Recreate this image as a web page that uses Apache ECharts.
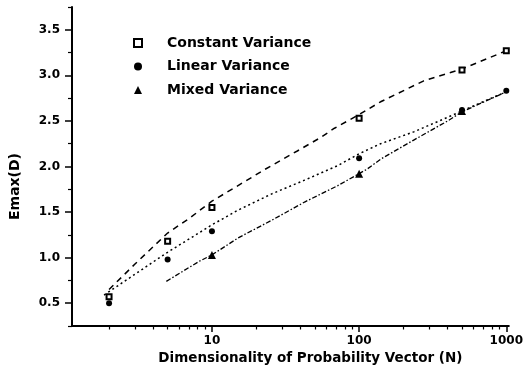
<!DOCTYPE html>
<html>
<head>
<meta charset="utf-8">
<script src="https://cdn.jsdelivr.net/npm/echarts@6/dist/echarts.min.js"></script>
<style>html,body{margin:0;padding:0;background:#fff}#c{width:526px;height:373px}</style>
</head>
<body>
<div id="c"></div>
<script>
// ---- data ----
var xMajorTicks = [10, 100, 1000];
var xMinorTicks = [2,3,4,5,6,7,8,9,20,30,40,50,60,70,80,90,200,300,400,500,600,700,800,900];
var yMajorTicks = [0.5, 1.0, 1.5, 2.0, 2.5, 3.0, 3.5];
var yMinorTicks = [0.25, 0.75, 1.25, 1.75, 2.25, 2.75, 3.25, 3.75];

var nConst = [2, 5, 10, 100, 500, 1000];
var constVals = [0.57, 1.18, 1.55, 2.53, 3.06, 3.27];
var nLinear = [2, 5, 10, 100, 500, 1000];
var linearVals = [0.50, 0.98, 1.29, 2.09, 2.62, 2.83];
var nMixed = [10, 100, 500];
var mixedVals = [1.03, 1.92, 2.61];

var nConstFit = [2, 3, 5, 7, 10, 14, 23, 38, 55, 68, 100, 140, 275, 500, 733, 1000];
var constFitVals = [0.65, 0.93, 1.27, 1.43, 1.62, 1.76, 1.97, 2.17, 2.32, 2.42, 2.57, 2.71, 2.94, 3.07, 3.18, 3.27];
var nLinearFit = [1.85, 4.9, 10, 15, 25.5, 42.6, 71.6, 100, 140, 235, 400, 500, 1000];
var linearFitVals = [0.59, 1.05, 1.36, 1.52, 1.70, 1.85, 2.01, 2.14, 2.25, 2.38, 2.54, 2.61, 2.82];
var nMixedFit = [4.9, 8.2, 10, 15.2, 25.5, 42.6, 71.6, 113, 140, 235, 400, 500, 1000];
var mixedFitVals = [0.74, 0.96, 1.03, 1.22, 1.41, 1.61, 1.79, 1.97, 2.08, 2.29, 2.50, 2.60, 2.82];

var names = ['Constant Variance', 'Linear Variance', 'Mixed Variance'];

function zip(a, b) { return a.map(function (v, i) { return [v, b[i]]; }); }

var FONT = 'DejaVu Sans';
var chart = echarts.init(document.getElementById('c'), null, {renderer: 'canvas'});

var xBase = {
  type: 'log', logBase: 10, min: 1.12, max: 1040, position: 'bottom',
  splitLine: {show: false}, minorTick: {show: false}, minorSplitLine: {show: false}
};
var yBase = {
  type: 'value', min: 0.25, max: 3.75, position: 'left',
  splitLine: {show: false}, minorTick: {show: false}
};

chart.setOption({
  animation: false,
  backgroundColor: '#fff',
  grid: {left: 72, right: 12, top: 7, bottom: 47},
  legend: {
    orient: 'vertical', left: 133, top: 36, padding: 0,
    itemWidth: 8, itemHeight: 8, itemGap: 9.5,
    textStyle: {fontFamily: FONT, fontWeight: 'bold', fontSize: 14, color: '#000', padding: [0, 0, 0, 20]},
    data: [
      {name: names[0], icon: 'emptyRect'},
      {name: names[1], icon: 'circle'},
      {name: names[2], icon: 'triangle'}
    ]
  },
  xAxis: [
    Object.assign({}, xBase, {
      name: 'Dimensionality of Probability Vector (N)',
      nameLocation: 'middle', nameGap: 21,
      nameTextStyle: {fontFamily: FONT, fontWeight: 'bold', fontSize: 13.5, color: '#000', padding: [0, 0, 0, 40]},
      axisLine: {show: true, lineStyle: {color: '#000', width: 2}},
      axisTick: {show: true, inside: false, length: 6, lineStyle: {color: '#000', width: 1.5}, customValues: xMajorTicks},
      axisLabel: {show: true, margin: 9, fontFamily: FONT, fontWeight: 'bold', fontSize: 12, color: '#000', customValues: xMajorTicks,
        formatter: function (v) { return String(Math.round(v)); }}
    }),
    Object.assign({}, xBase, {
      axisLine: {show: false},
      axisTick: {show: true, inside: false, length: 3.5, lineStyle: {color: '#000', width: 1.2}, customValues: xMinorTicks},
      axisLabel: {show: false}
    })
  ],
  yAxis: [
    Object.assign({}, yBase, {
      name: 'Emax(D)', nameLocation: 'middle', nameGap: 50,
      nameTextStyle: {fontFamily: FONT, fontWeight: 'bold', fontSize: 14, color: '#000', padding: [0, 40, 0, 0]},
      axisLine: {show: true, lineStyle: {color: '#000', width: 2}},
      axisTick: {show: true, inside: false, length: 7, lineStyle: {color: '#000', width: 1.5}, customValues: yMajorTicks},
      axisLabel: {show: true, margin: 12, fontFamily: FONT, fontWeight: 'bold', fontSize: 12, color: '#000', customValues: yMajorTicks,
        formatter: function (v) { return v.toFixed(1); }}
    }),
    Object.assign({}, yBase, {
      axisLine: {show: false},
      axisTick: {show: true, inside: false, length: 4, lineStyle: {color: '#000', width: 1.2}, customValues: yMinorTicks},
      axisLabel: {show: false}
    })
  ],
  series: [
    {type: 'line', name: 'constFit', data: zip(nConstFit, constFitVals), showSymbol: false, symbol: 'none', silent: true,
      lineStyle: {color: '#000', width: 1.5, type: [6, 5]}, z: 1},
    {type: 'line', name: 'linearFit', data: zip(nLinearFit, linearFitVals), showSymbol: false, symbol: 'none', silent: true,
      lineStyle: {color: '#000', width: 1.5, type: [2, 3]}, z: 1},
    {type: 'line', name: 'mixedFit', data: zip(nMixedFit, mixedFitVals), showSymbol: false, symbol: 'none', silent: true,
      lineStyle: {color: '#000', width: 1.3, type: [5, 2, 1.5, 2]}, z: 1},
    {type: 'scatter', name: names[2], data: zip(nMixed, mixedVals), symbol: 'triangle', symbolSize: 8,
      itemStyle: {color: '#000', opacity: 1}, z: 3},
    {type: 'scatter', name: names[1], data: zip(nLinear, linearVals), symbol: 'circle', symbolSize: 6,
      itemStyle: {color: '#000', opacity: 1}, z: 4},
    {type: 'scatter', name: names[0], data: zip(nConst, constVals), symbol: 'emptyRect', symbolSize: 5,
      itemStyle: {color: '#000', borderColor: '#000', borderWidth: 2, opacity: 1}, z: 4}
  ]
});
</script>
</body>
</html>
